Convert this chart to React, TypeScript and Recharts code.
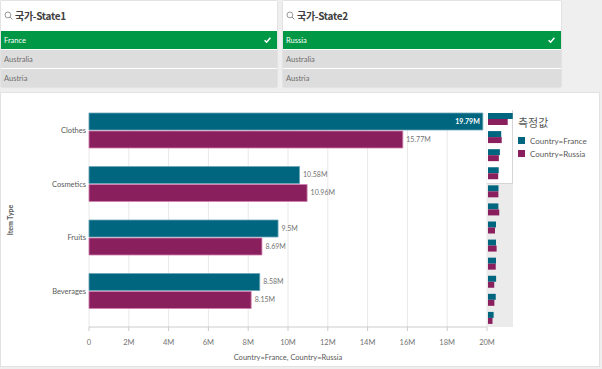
import { Bar, BarChart, CartesianGrid, LabelList, XAxis, YAxis } from 'recharts';

// values in millions, ordered as in the navigator strip
const itemTypes = [
  'Clothes',
  'Cosmetics',
  'Fruits',
  'Beverages',
  'Cereal',
  'Household',
  'Snacks',
  'Baby Food',
  'Personal Care',
  'Office Supplies',
  'Meat',
  'Vegetables',
];
const franceValues = [19.79, 10.58, 9.5, 8.58, 8.4, 8.3, 6.4, 6.4, 6.4, 6.5, 6.2, 4.5];
const russiaValues = [15.77, 10.96, 8.69, 8.15, 8.3, 9.0, 5.6, 6.9, 6.2, 5.0, 5.1, 3.6];
const visibleCount = 4;
const xTicks = [0, 2, 4, 6, 8, 10, 12, 14, 16, 18, 20];

const stateOneOptions = ['France', 'Australia', 'Austria'];
const stateTwoOptions = ['Russia', 'Australia', 'Austria'];

const FRANCE = '#00657f';
const RUSSIA = '#8a1f5e';
const TEXT = '#595959';

const rows = itemTypes.map((item, i) => ({
  item,
  france: franceValues[i],
  russia: russiaValues[i],
}));
const visibleRows = rows.slice(0, visibleCount);

function formatM(v: number) {
  return v === 0 ? '0' : `${v}M`;
}

function BarValueLabel(props: any) {
  const box = props.viewBox && props.viewBox.width != null ? props.viewBox : props;
  const { x, y, width, height } = box;
  const value = props.value as number;
  const inside = value >= 18; // no room to the right of the bar
  return (
    <text
      x={inside ? x + width - 3 : x + width + 3.5}
      y={y + height / 2}
      dy="0.35em"
      textAnchor={inside ? 'end' : 'start'}
      fontSize={7}
      fontWeight={inside ? 700 : 400}
      fill={inside ? '#ffffff' : '#737373'}
    >
      {formatM(value)}
    </text>
  );
}

function SearchIcon() {
  return (
    <svg width={9} height={9} viewBox="0 0 9 9" style={{ display: 'block' }}>
      <circle cx={3.9} cy={3.9} r={2.9} fill="none" stroke="#8c8c8c" strokeWidth={0.9} />
      <line x1={6} y1={6} x2={8.4} y2={8.4} stroke="#8c8c8c" strokeWidth={1} />
    </svg>
  );
}

function CheckMark() {
  return (
    <svg width={7} height={6} viewBox="0 0 7 6" style={{ display: 'block' }}>
      <polyline points="0.6,3.2 2.6,5.2 6.4,0.8" fill="none" stroke="#ffffff" strokeWidth={1.5} />
    </svg>
  );
}

function FilterPane({ left, width, title, options }: { left: number; width: number; title: string; options: string[] }) {
  return (
    <div
      style={{
        position: 'absolute',
        left,
        top: 1,
        width,
        height: 86,
        background: '#ffffff',
        boxShadow: '0 0 1.5px rgba(0,0,0,0.18)',
        overflow: 'hidden',
      }}
    >
      <div style={{ height: 29, display: 'flex', alignItems: 'center', paddingLeft: 3 }}>
        <SearchIcon />
        <span
          style={{
            marginLeft: 2,
            fontSize: 10,
            fontWeight: 700,
            color: '#404040',
            fontFamily: '"Noto Sans CJK KR", Lato, sans-serif',
            letterSpacing: -0.3,
          }}
        >
          {title}
        </span>
      </div>
      {options.map((opt, i) => (
        <div
          key={opt}
          style={{
            height: 18,
            marginTop: 1,
            background: i === 0 ? '#009845' : '#dddddd',
            color: i === 0 ? '#ffffff' : '#6e6e6e',
            fontSize: 7.5,
            display: 'flex',
            alignItems: 'center',
            justifyContent: 'space-between',
            padding: '0 6px 0 3px',
          }}
        >
          <span>{opt}</span>
          {i === 0 && <CheckMark />}
        </div>
      ))}
    </div>
  );
}

export default function App() {
  return (
    <div
      style={{
        position: 'fixed',
        left: 0,
        top: 0,
        width: 602,
        height: 369,
        background: '#efefef',
        fontFamily: 'Lato, "Noto Sans CJK KR", sans-serif',
        overflow: 'hidden',
      }}
    >
      <FilterPane left={1} width={276} title="국가-State1" options={stateOneOptions} />
      <FilterPane left={283} width={278} title="국가-State2" options={stateTwoOptions} />

      {/* chart panel */}
      <div
        style={{
          position: 'absolute',
          left: 0,
          top: 92,
          width: 600,
          height: 275,
          background: '#ffffff',
          border: '1px solid #e2e2e2',
          boxSizing: 'border-box',
        }}
      />

      <div style={{ position: 'absolute', left: 0, top: 93 }}>
        <BarChart
          width={600}
          height={273}
          data={visibleRows}
          layout="vertical"
          margin={{ top: 20, right: 113, left: 0, bottom: 0 }}
          barGap={1}
          barSize={17}
        >
          <CartesianGrid horizontal={false} stroke="#e8e8e8" />
          <XAxis
            type="number"
            domain={[0, 20]}
            ticks={xTicks}
            tickFormatter={formatM}
            tick={{ fontSize: 7.5, fill: '#737373' }}
            axisLine={{ stroke: '#cccccc' }}
            tickLine={{ stroke: '#cccccc' }}
            tickSize={4}
            tickMargin={9}
            height={39}
            label={{
              content: (p: any) => (
                <text
                  x={p.viewBox.x + p.viewBox.width / 2}
                  y={p.viewBox.y + p.viewBox.height - 6}
                  textAnchor="middle"
                  fontSize={7.5}
                  fill={TEXT}
                >
                  Country=France, Country=Russia
                </text>
              ),
            }}
          />
          <YAxis
            type="category"
            dataKey="item"
            width={89}
            padding={{ top: -9, bottom: 9 }}
            axisLine={false}
            tickLine={false}
            tickSize={0}
            tickMargin={3}
            tick={{ fontSize: 7.5, fill: TEXT }}
            label={{
              content: (p: any) => (
                <text
                  transform={`translate(${p.viewBox.x + 13}, ${p.viewBox.y + p.viewBox.height / 2}) rotate(-90)`}
                  textAnchor="middle"
                  fontSize={7}
                  fontWeight={700}
                  fill={TEXT}
                >
                  Item Type
                </text>
              ),
            }}
          />
          <Bar dataKey="france" fill={FRANCE} stroke="#6aa6b6" strokeWidth={0.8} isAnimationActive={false}>
            <LabelList dataKey="france" content={BarValueLabel} />
          </Bar>
          <Bar dataKey="russia" fill={RUSSIA} stroke="#d07fae" strokeWidth={0.8} isAnimationActive={false}>
            <LabelList dataKey="russia" content={BarValueLabel} />
          </Bar>
        </BarChart>
      </div>

      {/* navigator strip */}
      <div style={{ position: 'absolute', left: 487, top: 110, width: 26, height: 217, background: '#ebebeb' }} />
      <div
        style={{
          position: 'absolute',
          left: 487,
          top: 110,
          width: 26,
          height: (217 * visibleCount) / itemTypes.length + 2,
          background: '#ffffff',
          borderRight: '1px solid #d6d6d6',
          borderBottom: '1px solid #d6d6d6',
          boxSizing: 'border-box',
        }}
      />
      <div style={{ position: 'absolute', left: 488, top: 110 }}>
        <BarChart
          width={25}
          height={217}
          data={rows}
          layout="vertical"
          margin={{ top: 0, right: 0, left: 0, bottom: 0 }}
          barGap={0}
          barSize={6}
        >
          <XAxis type="number" domain={[0, 20]} hide />
          <YAxis type="category" dataKey="item" hide />
          <Bar dataKey="france" fill={FRANCE} isAnimationActive={false} />
          <Bar dataKey="russia" fill={RUSSIA} isAnimationActive={false} />
        </BarChart>
      </div>

      {/* legend */}
      <div style={{ position: 'absolute', left: 518, top: 113, color: TEXT }}>
        <div style={{ fontSize: 11, fontFamily: '"Noto Sans CJK KR", sans-serif', lineHeight: '18px', marginBottom: 3 }}>
          측정값
        </div>
        {[
          { name: 'Country=France', color: FRANCE },
          { name: 'Country=Russia', color: RUSSIA },
        ].map((s) => (
          <div key={s.name} style={{ display: 'flex', alignItems: 'center', height: 13, fontSize: 8 }}>
            <span style={{ width: 7, height: 7, background: s.color, marginRight: 5, display: 'inline-block' }} />
            {s.name}
          </div>
        ))}
      </div>
    </div>
  );
}
